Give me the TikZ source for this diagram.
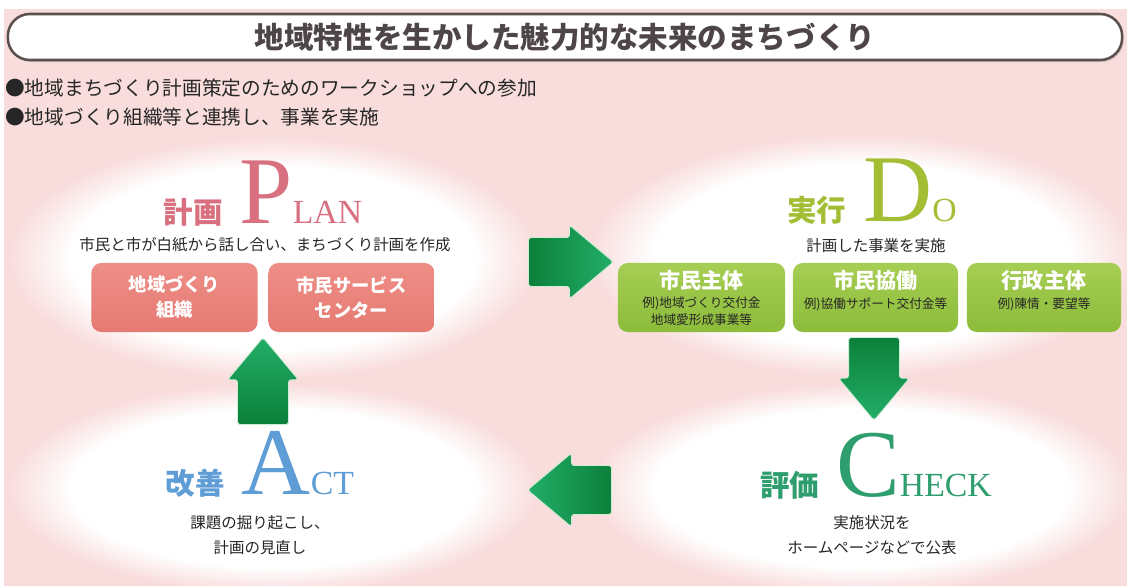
\documentclass[tikz,border=0pt]{standalone}
\usepackage{fontspec}
\setmainfont{Noto Sans CJK JP}
\newfontfamily\latinserif{Liberation Serif}
\usetikzlibrary{shapes.geometric,shapes.arrows,shadows,positioning}
\definecolor{bgpink}{RGB}{249,221,221}
\definecolor{planpink}{RGB}{216,112,128}
\definecolor{planboxtop}{RGB}{238,142,134}
\definecolor{planboxbot}{RGB}{229,122,115}
\definecolor{dogreen}{RGB}{163,190,52}
\definecolor{doboxtop}{RGB}{166,206,84}
\definecolor{doboxbot}{RGB}{140,188,58}
\definecolor{actblue}{RGB}{94,157,214}
\definecolor{checkgreen}{RGB}{47,158,110}
\definecolor{arrowdark}{RGB}{12,128,58}
\definecolor{arrowlight}{RGB}{34,174,104}
\definecolor{arrowedge}{RGB}{205,236,212}
\definecolor{titleline}{RGB}{92,80,78}
\definecolor{titletext}{RGB}{78,70,70}
\pgfdeclareradialshading{glowshade}{\pgfpoint{0bp}{0bp}}{color(0bp)=(white); color(19bp)=(white); color(25bp)=(bgpink); color(50bp)=(bgpink)}
\newcommand\phaseword[2]{{\latinserif\mdseries\fontsize{68}{68}\selectfont #1}{\latinserif\mdseries\fontsize{24}{24}\selectfont #2}}
\newcommand\boxtitle[1]{{\fontsize{15}{15}\selectfont\bfseries\color{white}#1}}

\begin{document}
\begin{tikzpicture}[x=0.025cm, y=-0.025cm,
    glow/.style={ellipse, shading=glowshade, inner sep=0pt},
    phase/.style={anchor=base, inner sep=0pt, font=\fontsize{21}{21}\selectfont\bfseries},
    desc/.style={inner sep=0pt, align=center, text=black!85, font=\fontsize{11}{17.8}\selectfont},
    bulletline/.style={anchor=west, inner sep=0pt, text=black!85, font=\fontsize{14}{14}\selectfont},
    planbox/.style={rounded corners=7pt, top color=planboxtop, bottom color=planboxbot, minimum width=4.15cm, minimum height=1.725cm, inner sep=0pt, align=center, text=white, font=\fontsize{13}{17.8}\selectfont\bfseries},
    dobox/.style={rounded corners=7pt, top color=doboxtop, bottom color=doboxbot, minimum height=1.725cm, inner sep=0pt, align=center, text=black!85, font=\fontsize{9}{11.4}\selectfont},
    blockarrow/.style={single arrow, single arrow tip angle=80, anchor=tail, inner sep=0.6cm, rounded corners=2pt, draw=arrowedge, line width=0.6pt}]
    \useasboundingbox (0,0) rectangle (1127,586);
    % Background
    \fill[white] (0,0) rectangle (1127,586);
    \fill[bgpink] (4,9) rectangle (1127,586);
    \node[glow, minimum width=13.2cm, minimum height=6cm] (planbg) at (273,258) {};
    \node[glow, minimum width=13.6cm, minimum height=6cm] (dobg) at (862,255) {};
    \node[glow, minimum width=13.2cm, minimum height=5.2cm] (actbg) at (273,488) {};
    \node[glow, minimum width=13.5cm, minimum height=5.2cm] (checkbg) at (862,488) {};

    % Title
    \node[draw=titleline, line width=1.8pt, fill=white, rounded corners=0.55cm, minimum width=27.85cm, minimum height=1.15cm, drop shadow={shadow xshift=1pt, shadow yshift=-1.5pt, opacity=0.3}, text=titletext, font=\fontsize{21}{21}\selectfont\bfseries] (titlebar) at (565,37) {地域特性を生かした魅力的な未来のまちづくり};
    \node[bulletline] (item1) at (5,88) {●地域まちづくり計画策定のためのワークショップへの参加};
    \node[bulletline] (item2) at (5,117) {●地域づくり組織等と連携し、事業を実施};

    % Plan
    \node[phase, text=planpink] (planhead) at (263,223) {計画\hspace{12pt}\phaseword{P}{LAN}};
    \node[desc] (plandesc) at (265,245) {市民と市が白紙から話し合い、まちづくり計画を作成};
    \node[planbox] (orgbox) at (174.5,297.5) {地域づくり\\組織};
    \node[planbox] (centerbox) at (351.5,297.5) {市民サービス\\センター};

    % Do
    \node[phase, text=dogreen] (dohead) at (872,221) {実行\hspace{12pt}\phaseword{D}{O}};
    \node[desc] (dodesc) at (876,246) {計画した事業を実施};
    \node[dobox, minimum width=4.175cm] (citizenbox) at (701.5,297.5) {\boxtitle{市民主体}\\[2.8pt]例)地域づくり交付金\\地域愛形成事業等};
    \node[dobox, minimum width=4.125cm] (jointbox) at (875.5,297.5) {\boxtitle{市民協働}\\[2.8pt]例)協働サポート交付金等\\\phantom{地}};
    \node[dobox, minimum width=3.85cm] (adminbox) at (1044,297.5) {\boxtitle{行政主体}\\[2.8pt]例)陳情・要望等\\\phantom{地}};

    % Check
    \node[phase, text=checkgreen] (checkhead) at (876,496) {評価\hspace{12pt}\phaseword{C}{HECK}};
    \node[desc] (checkdesc) at (872,535) {実施状況を\\ホームページなどで公表};

    % Act
    \node[phase, text=actblue] (acthead) at (260,494) {改善\hspace{12pt}\phaseword{A}{CT}};
    \node[desc] (actdesc) at (260,535) {課題の掘り起こし、\\計画の見直し};

    % Arrows
    \node[blockarrow, single arrow head extend=0.31cm, minimum height=2.125cm, left color=arrowdark, right color=arrowlight] (plantodo) at (528,262) {};
    \node[blockarrow, shape border rotate=270, inner sep=0.625cm, single arrow head extend=0.25cm, minimum height=2.075cm, top color=arrowdark, bottom color=arrowlight] (dotocheck) at (874,337) {};
    \node[blockarrow, shape border rotate=180, single arrow head extend=0.31cm, minimum height=2.1cm, left color=arrowlight, right color=arrowdark] (checktoact) at (612,490) {};
    \node[blockarrow, shape border rotate=90, inner sep=0.625cm, single arrow head extend=0.25cm, minimum height=2.175cm, top color=arrowlight, bottom color=arrowdark] (acttoplan) at (263,425) {};
\end{tikzpicture}
\end{document}
